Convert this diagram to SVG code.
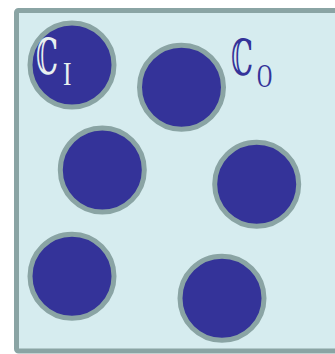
<svg xmlns="http://www.w3.org/2000/svg" width="335" height="354" viewBox="0 0 335 354">
<style>
.bg{fill:#d6ecef;stroke:#8aa4a4;stroke-width:5}
.c{fill:#343399;stroke:#8aa4a4;stroke-width:5}
.t{font-family:"DejaVu Serif","Liberation Serif",serif}
.s{font-family:"Liberation Serif",serif}
</style>
<rect width="335" height="354" fill="#ffffff"/>
<rect class="bg" x="16.5" y="10.5" width="330" height="340.5" rx="2"/>
<g id="n1"><circle class="c" cx="72" cy="65" r="42"/></g>
<g id="n2"><circle class="c" cx="181.5" cy="87.3" r="42"/></g>
<g id="n3"><circle class="c" cx="102.3" cy="170" r="42"/></g>
<g id="n4"><circle class="c" cx="256.7" cy="184.3" r="42"/></g>
<g id="n5"><circle class="c" cx="72" cy="276.3" r="42"/></g>
<g id="n6"><circle class="c" cx="222" cy="298.3" r="42"/></g>
<g id="l1" fill="#e8f0f0">
<text class="t" x="0" y="0" font-size="50" transform="translate(36,74) scale(0.55,1)">ℂ</text>
<text class="s" x="0" y="0" font-size="34" transform="translate(63,85) scale(0.75,1)">I</text>
</g>
<g id="l2" fill="#343399">
<text class="t" x="0" y="0" font-size="50" transform="translate(231,75) scale(0.55,1)">ℂ</text>
<text class="s" x="0" y="0" font-size="34" transform="translate(257,87) scale(0.62,1)">O</text>
</g>
</svg>
